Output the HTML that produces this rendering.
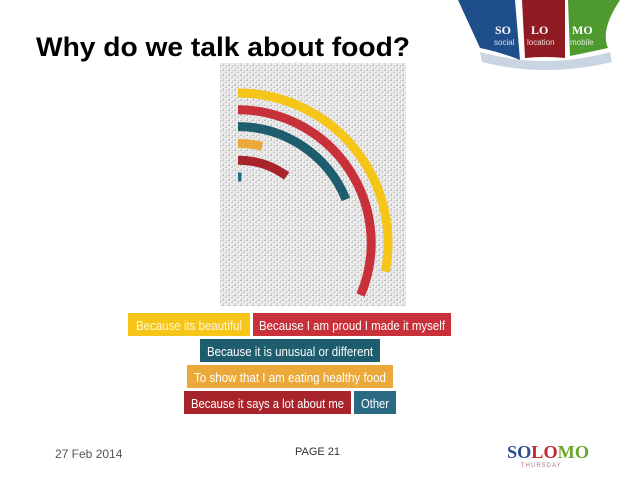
<!DOCTYPE html>
<html><head><meta charset="utf-8"><style>
body{margin:0;width:638px;height:479px;background:#fff;overflow:hidden;position:relative;font-family:"Liberation Sans",sans-serif}
</style></head><body>
<svg width="638" height="479" viewBox="0 0 638 479" xmlns="http://www.w3.org/2000/svg">
<defs>
<pattern id="tex" width="6" height="5" patternUnits="userSpaceOnUse">
<rect width="6" height="5" fill="#ececec"/>
<rect x="0" y="0" width="2" height="1" fill="#bdbdbd"/><rect x="3" y="2" width="2" height="1" fill="#c8c8c8"/>
<rect x="1" y="3" width="1" height="2" fill="#cacaca"/><rect x="4" y="0" width="1" height="2" fill="#d2d2d2"/>
</pattern>
</defs>
<text x="36" y="56" font-size="27" font-weight="bold" fill="#000" textLength="374" lengthAdjust="spacingAndGlyphs">Why do we talk about food?</text>
<g>
<path d="M458 0 L515 0 L520 60 Q500 52 480 48 Z" fill="#1f4f8a"/>
<path d="M522 0 L565 0 L565 58 Q545 56 525 58 Z" fill="#8f1a22"/>
<path d="M568 0 L620 0 Q600 30 608 48 Q590 52 570 56 Z" fill="#4f9a2e"/>
<path d="M480 52 Q545 70 610 52 L612 62 Q545 78 482 62 Z" fill="#c9d5e3"/>
<text x="495" y="34" font-size="12" font-weight="bold" fill="#fff" font-family="Liberation Serif,serif">SO</text>
<text x="494" y="45" font-size="8" fill="#dde">social</text>
<text x="531" y="34" font-size="12" font-weight="bold" fill="#fff" font-family="Liberation Serif,serif">LO</text>
<text x="527" y="45" font-size="8" fill="#edd">location</text>
<text x="572" y="34" font-size="12" font-weight="bold" fill="#fff" font-family="Liberation Serif,serif">MO</text>
<text x="570" y="45" font-size="8" fill="#ded">mobile</text>
</g>
<rect x="220" y="63" width="186" height="243" fill="url(#tex)"/>
<g id="arcs"></g>
<g>
<g><rect x="128" y="313" width="122" height="23" fill="#f5c518"/><text x="136" y="330" font-size="13" fill="#fff8d8" textLength="106" lengthAdjust="spacingAndGlyphs">Because its beautiful</text></g>
<g><rect x="253" y="313" width="198" height="23" fill="#c8313a"/><text x="259" y="330" font-size="13" fill="#fff" textLength="186" lengthAdjust="spacingAndGlyphs">Because I am proud I made it myself</text></g>
<g><rect x="200" y="339" width="180" height="23" fill="#1d5d6e"/><text x="207" y="356" font-size="13" fill="#fff" textLength="166" lengthAdjust="spacingAndGlyphs">Because it is unusual or different</text></g>
<g><rect x="187" y="365" width="206" height="23" fill="#eba93a"/><text x="194" y="382" font-size="13" fill="#fff" textLength="192" lengthAdjust="spacingAndGlyphs">To show that I am eating healthy food</text></g>
<g><rect x="184" y="391" width="167" height="23" fill="#a8242a"/><text x="191" y="408" font-size="13" fill="#fff" textLength="153" lengthAdjust="spacingAndGlyphs">Because it says a lot about me</text></g>
<g><rect x="354" y="391" width="42" height="23" fill="#2a6a84"/><text x="361" y="408" font-size="13" fill="#fff" textLength="28" lengthAdjust="spacingAndGlyphs">Other</text></g>
</g>
<text x="55" y="458" font-size="12" fill="#555">27 Feb 2014</text>
<text x="295" y="455" font-size="11" fill="#333">PAGE 21</text>
<g>
<text x="507" y="458" font-size="18" font-weight="bold" font-family="Liberation Serif,serif" textLength="82" lengthAdjust="spacingAndGlyphs"><tspan fill="#2a4f8f">SO</tspan><tspan fill="#c0272d">LO</tspan><tspan fill="#6aa52f">MO</tspan></text>
<text x="521" y="467" font-size="6" fill="#a77" letter-spacing="1">THURSDAY</text>
</g>
</svg>
<script>
const categories=["Because its beautiful","Because I am proud I made it myself","Because it is unusual or different","To show that I am eating healthy food","Because it says a lot about me","Other"];
const values=[101,113,68,14,36,3];
const colors=["#f5c518","#c8313a","#1d5d6e","#eba93a","#a8242a","#2a6a84"];
const cx=238,cy=243,r0=150,step=16.8,maxDeg=360;
function angle(v){return v/maxDeg*2*Math.PI;}
function pt(r,a){return [cx+r*Math.sin(a),cy-r*Math.cos(a)];}
const g=document.getElementById('arcs');
values.forEach((v,i)=>{
 const r=r0-i*step,a=angle(v);
 const p0=pt(r,0),p1=pt(r,a);
 const el=document.createElementNS('http://www.w3.org/2000/svg','path');
 el.setAttribute('d',`M${p0[0]} ${p0[1]} A${r} ${r} 0 ${a>Math.PI?1:0} 1 ${p1[0]} ${p1[1]}`);
 el.setAttribute('stroke',colors[i]);el.setAttribute('stroke-width','9');el.setAttribute('fill','none');
 
 
 g.appendChild(el);
});
</script>
</body></html>
